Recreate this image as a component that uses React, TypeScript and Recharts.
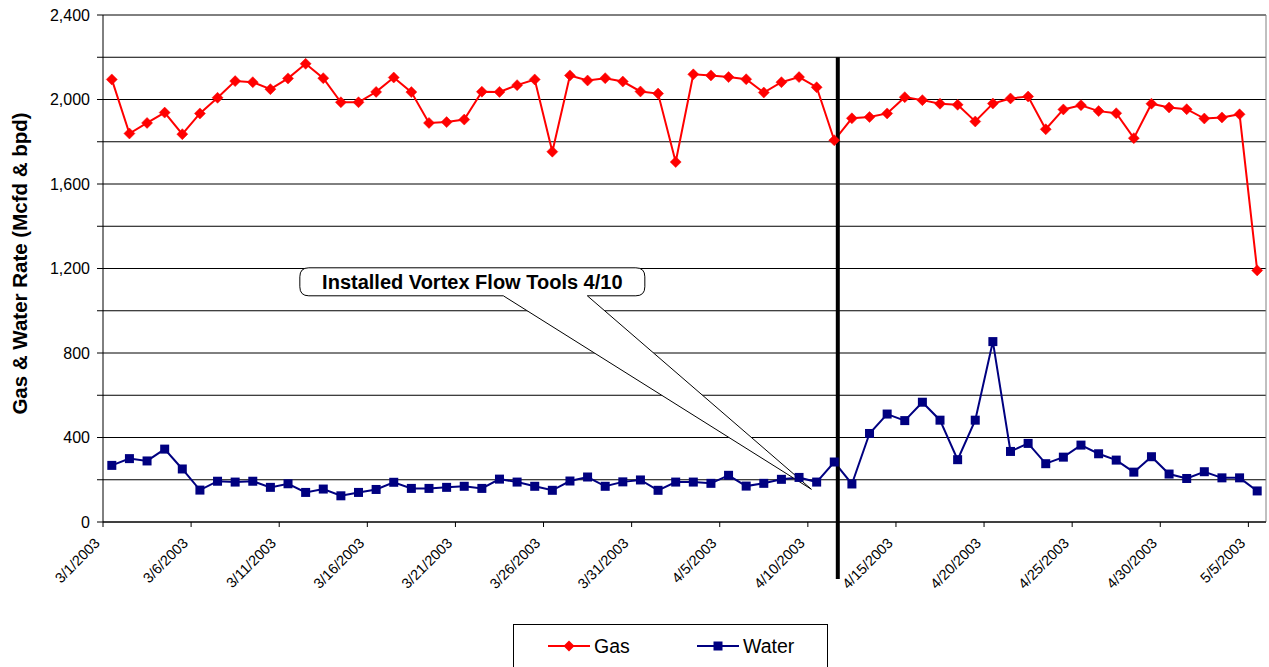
import React from 'react';
import { LineChart, Line, XAxis, YAxis, CartesianGrid, ReferenceLine, Legend } from 'recharts';

const FONT = '"Liberation Sans", Arial, Helvetica, sans-serif';

// Daily production dates
const dates = [
  '3/1/2003', '3/2/2003', '3/3/2003', '3/4/2003', '3/5/2003', '3/6/2003', '3/7/2003', '3/8/2003', '3/9/2003', '3/10/2003',
  '3/11/2003', '3/12/2003', '3/13/2003', '3/14/2003', '3/15/2003', '3/16/2003', '3/17/2003', '3/18/2003', '3/19/2003', '3/20/2003',
  '3/21/2003', '3/22/2003', '3/23/2003', '3/24/2003', '3/25/2003', '3/26/2003', '3/27/2003', '3/28/2003', '3/29/2003', '3/30/2003',
  '3/31/2003', '4/1/2003', '4/2/2003', '4/3/2003', '4/4/2003', '4/5/2003', '4/6/2003', '4/7/2003', '4/8/2003', '4/9/2003',
  '4/10/2003', '4/11/2003', '4/12/2003', '4/13/2003', '4/14/2003', '4/15/2003', '4/16/2003', '4/17/2003', '4/18/2003', '4/19/2003',
  '4/20/2003', '4/21/2003', '4/22/2003', '4/23/2003', '4/24/2003', '4/25/2003', '4/26/2003', '4/27/2003', '4/28/2003', '4/29/2003',
  '4/30/2003', '5/1/2003', '5/2/2003', '5/3/2003', '5/4/2003', '5/5/2003',
];

// Gas rate, Mcfd
const gas = [
  2095, 1839, 1889, 1938, 1836, 1934, 2008, 2087, 2082, 2049,
  2100, 2169, 2101, 1987, 1987, 2036, 2104, 2035, 1889, 1893,
  1905, 2037, 2036, 2068, 2095, 1753, 2114, 2090, 2101, 2085,
  2038, 2028, 1704, 2119, 2114, 2106, 2096, 2033, 2082, 2106,
  2058, 1807, 1911, 1917, 1934, 2011, 1997, 1980, 1975, 1896,
  1981, 2005, 2014, 1859, 1953, 1973, 1945, 1935, 1817, 1980,
  1962, 1954, 1910, 1915, 1930, 1191,
];

// Water rate, bpd
const water = [
  268, 300, 289, 345, 251, 151, 193, 189, 193, 164,
  181, 140, 156, 124, 140, 154, 188, 159, 159, 164,
  169, 159, 203, 189, 169, 150, 194, 213, 169, 190,
  199, 150, 189, 189, 183, 221, 170, 183, 202, 211,
  189, 284, 180, 419, 511, 480, 567, 482, 295, 482,
  854, 334, 372, 276, 307, 364, 323, 293, 236, 309,
  227, 206, 238, 209, 209, 147,
];

const yTicks = [0, 200, 400, 600, 800, 1000, 1200, 1400, 1600, 1800, 2000, 2200, 2400];
// tick marks sit between days, one every five days
const xTickBounds = [-0.5, 4.5, 9.5, 14.5, 19.5, 24.5, 29.5, 34.5, 39.5, 44.5, 49.5, 54.5, 59.5, 64.5];

const installMarkX = 41.2;
const calloutText = 'Installed Vortex Flow Tools 4/10';
const calloutBox = { x: 20.46, y: 1137 };
const calloutTip = { x: 39.7, y: 155 };

const data = dates.map((d, i) => ({ idx: i, date: d, gas: gas[i], water: water[i] }));

const GAS_COLOR = '#FF0000';
const WATER_COLOR = '#000080';

const Diamond = (props: any) => {
  const { cx, cy, index } = props;
  if (cx == null || cy == null) return <g key={`d${index}`} />;
  const r = 5.5;
  return (
    <polygon
      key={`d${index}`}
      points={`${cx},${cy - r} ${cx + r},${cy} ${cx},${cy + r} ${cx - r},${cy}`}
      fill={GAS_COLOR}
      stroke={GAS_COLOR}
      strokeWidth={0.5}
    />
  );
};

const Square = (props: any) => {
  const { cx, cy, index } = props;
  if (cx == null || cy == null) return <g key={`s${index}`} />;
  const s = 9;
  return <rect key={`s${index}`} x={cx - s / 2} y={cy - s / 2} width={s} height={s} fill={WATER_COLOR} />;
};

const DateTick = (props: any) => {
  const { x, y, payload, width } = props;
  const axisWidth = typeof width === 'number' && width > 0 ? width : 1163;
  const half = axisWidth / dates.length / 2;
  const i = Math.round(payload.value + 0.5);
  const label = dates[i] ?? '';
  const ax = x + half - 11;
  const ay = y + 15;
  return (
    <text
      x={ax}
      y={ay}
      transform={`rotate(-45, ${ax}, ${ay})`}
      textAnchor="end"
      fontFamily={FONT}
      fontSize={14.5}
      fill="#000"
    >
      {label}
    </text>
  );
};

const formatY = (v: number) => (v % 400 === 0 ? v.toLocaleString('en-US') : '');

const YTitle = (props: any) => {
  const vb = props.viewBox || { x: 0, y: 15, width: 103, height: 507 };
  const cx = vb.x + 19;
  const cy = vb.y + vb.height / 2 - 5;
  return (
    <text
      x={cx}
      y={cy}
      transform={`rotate(-90, ${cx}, ${cy})`}
      textAnchor="middle"
      dominantBaseline="central"
      fontFamily={FONT}
      fontSize={20.5}
      fontWeight="bold"
      fill="#000"
    >
      Gas &amp; Water Rate (Mcfd &amp; bpd)
    </text>
  );
};

const Callout = (props: any) => {
  const { x1, y1, x2, y2 } = props;
  if ([x1, y1, x2, y2].some((v) => typeof v !== 'number')) return <g />;
  const w = 345;
  const h = 28;
  const r = 9;
  const left = x1 - w / 2;
  const right = x1 + w / 2;
  const top = y1 - h / 2;
  const bottom = y1 + h / 2;
  const bl = x1 + 31;
  const br = x1 + 115;
  const d = [
    `M ${left + r} ${top}`,
    `H ${right - r}`,
    `Q ${right} ${top} ${right} ${top + r}`,
    `V ${bottom - r}`,
    `Q ${right} ${bottom} ${right - r} ${bottom}`,
    `H ${br}`,
    `L ${x2} ${y2}`,
    `L ${bl} ${bottom}`,
    `H ${left + r}`,
    `Q ${left} ${bottom} ${left} ${bottom - r}`,
    `V ${top + r}`,
    `Q ${left} ${top} ${left + r} ${top}`,
    'Z',
  ].join(' ');
  return (
    <g>
      <path d={d} fill="#fff" stroke="#000" strokeWidth={1} />
      <text
        x={x1}
        y={y1}
        textAnchor="middle"
        dominantBaseline="central"
        fontFamily={FONT}
        fontSize={20}
        fontWeight="bold"
        fill="#000"
      >
        {calloutText}
      </text>
    </g>
  );
};

const LegendBox = (props: any) => {
  const items = (props.payload || []) as any[];
  const slots = [35, 184];
  return (
    <svg width={315} height={48} style={{ display: 'block' }}>
      <rect x={0.5} y={0.5} width={314} height={60} fill="#fff" stroke="#000" strokeWidth={1} />
      {items.map((it, k) => {
        const x0 = slots[k] ?? 35 + k * 149;
        const color = it.color;
        const isGas = it.value === 'Gas';
        return (
          <g key={it.value}>
            <line x1={x0} x2={x0 + 42} y1={22} y2={22} stroke={color} strokeWidth={2} />
            {isGas ? (
              <polygon points={`${x0 + 21},${16.5} ${x0 + 26.5},22 ${x0 + 21},${27.5} ${x0 + 15.5},22`} fill={color} />
            ) : (
              <rect x={x0 + 16.5} y={17.5} width={9} height={9} fill={color} />
            )}
            <text x={x0 + 46} y={22} dominantBaseline="central" fontFamily={FONT} fontSize={19.5} fill="#000">
              {it.value}
            </text>
          </g>
        );
      })}
    </svg>
  );
};

export default function App() {
  return (
    <div style={{ position: 'absolute', left: 0, top: 0, background: '#fff' }}>
      <LineChart width={1269} height={667} data={data} margin={{ top: 15, right: 3, bottom: 85, left: 0 }}>
        <CartesianGrid vertical={false} stroke="#000" strokeWidth={1} />
        <XAxis
          dataKey="idx"
          type="number"
          domain={[-0.5, 65.5]}
          ticks={xTickBounds}
          interval={0}
          height={60}
          stroke="#000"
          tickSize={5}
          tickMargin={2}
          tick={<DateTick />}
          allowDataOverflow
        />
        <YAxis
          domain={[0, 2400]}
          ticks={yTicks}
          interval={0}
          width={103}
          stroke="#000"
          tickSize={6}
          tickMargin={7}
          tickFormatter={formatY}
          tick={{ fontFamily: FONT, fontSize: 16, fill: '#000' }}
          label={{ content: <YTitle /> }}
        />
        <ReferenceLine x={65.5} stroke="#808080" strokeWidth={1} />
        <Line
          dataKey="gas"
          name="Gas"
          stroke={GAS_COLOR}
          strokeWidth={2}
          dot={Diamond}
          activeDot={false}
          isAnimationActive={false}
        />
        <Line
          dataKey="water"
          name="Water"
          stroke={WATER_COLOR}
          strokeWidth={2}
          dot={Square}
          activeDot={false}
          isAnimationActive={false}
        />
        <ReferenceLine
          segment={[calloutBox, calloutTip]}
          ifOverflow="visible"
          shape={<Callout />}
        />
        <ReferenceLine
          segment={[{ x: installMarkX, y: 2200 }, { x: installMarkX, y: -270 }]}
          stroke="#000"
          strokeWidth={4}
          ifOverflow="visible"
        />
        <Legend
          layout="vertical"
          align="center"
          verticalAlign="middle"
          content={<LegendBox />}
          wrapperStyle={{ left: 513, top: 624, width: 315, height: 48 }}
        />
      </LineChart>
    </div>
  );
}
